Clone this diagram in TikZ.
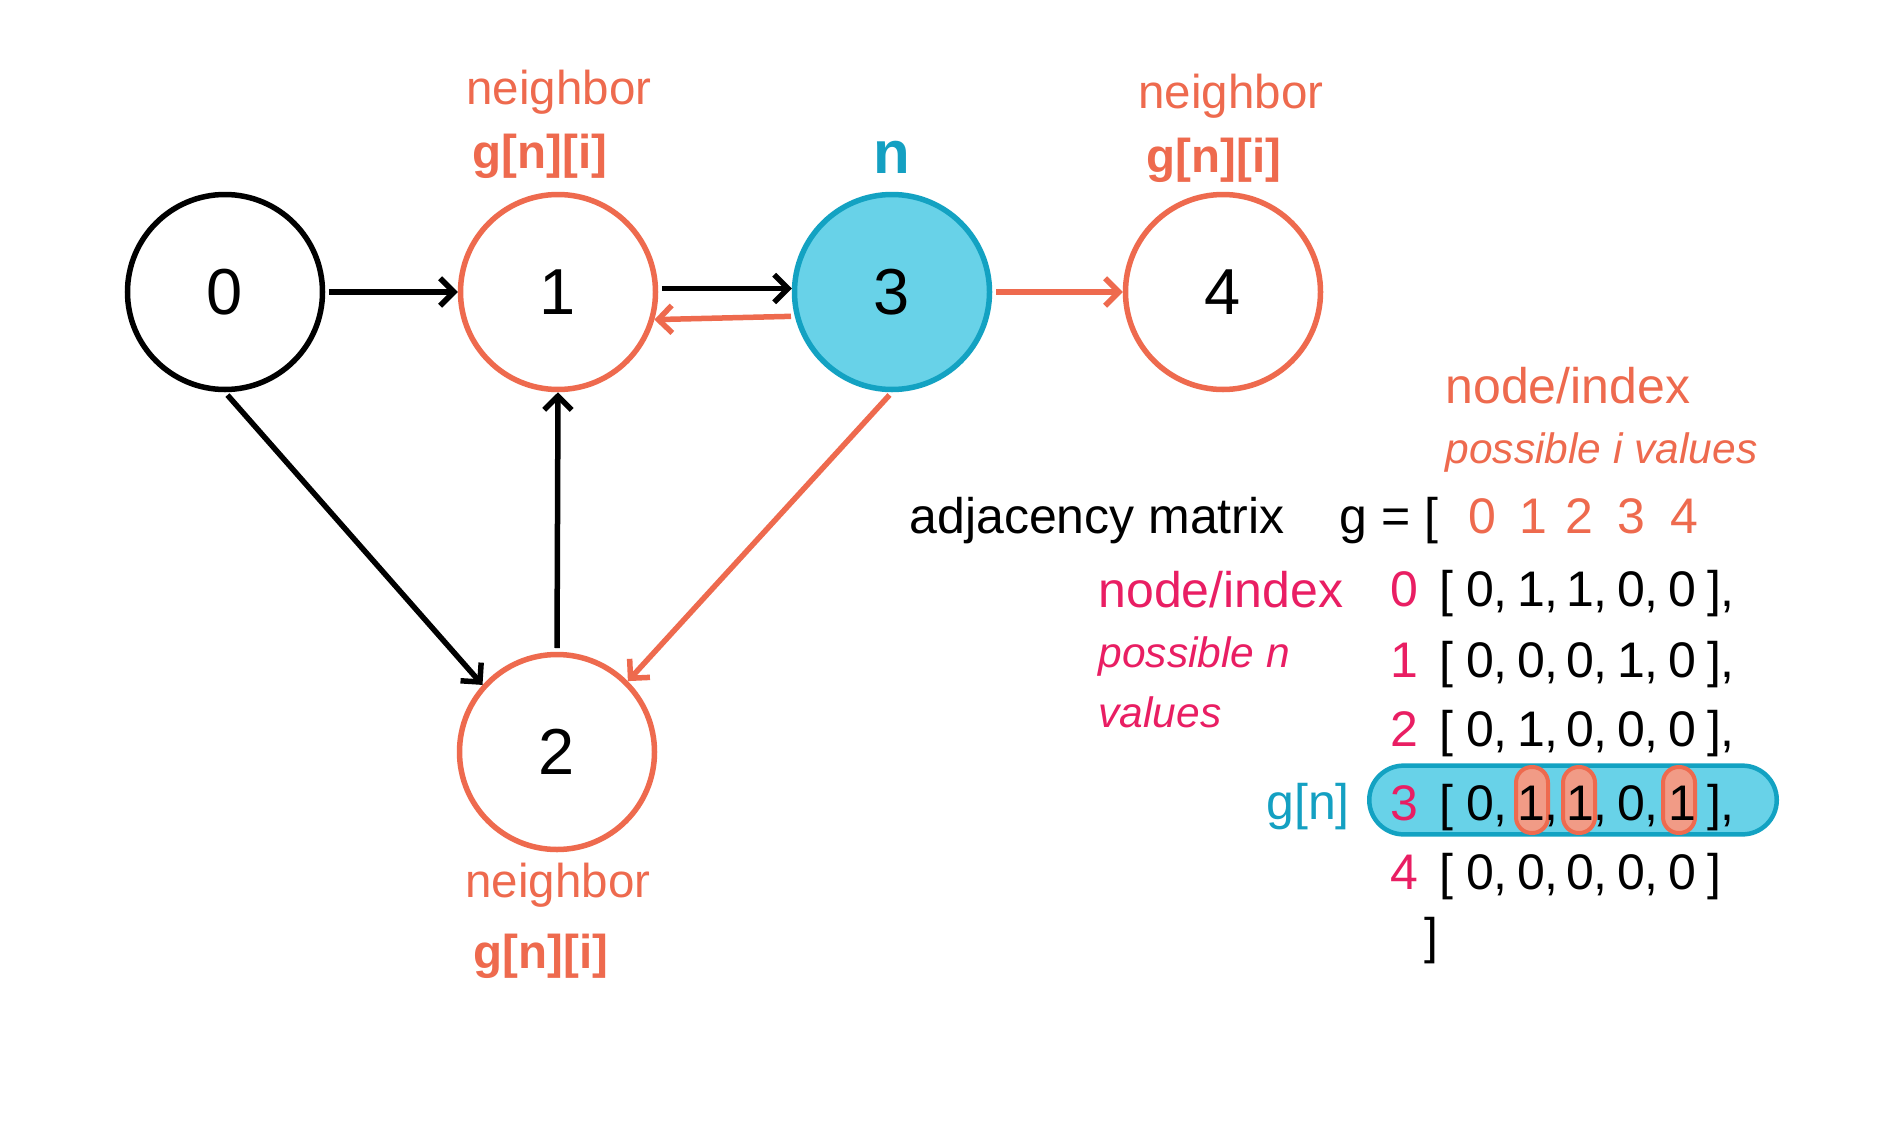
\documentclass[tikz,border=0pt]{standalone}
\usepackage{fontspec}
\setmainfont{Liberation Sans}
\usetikzlibrary{arrows.meta,shapes.misc}
\definecolor{orng}{HTML}{EE6A4E}
\definecolor{tealfill}{HTML}{68D2E8}
\definecolor{tealline}{HTML}{13A2C2}
\definecolor{tealtext}{HTML}{14A0C2}
\definecolor{pinkc}{HTML}{E91E63}
\definecolor{salmon}{HTML}{F19B86}
\newcommand{\setfs}[1]{\fontsize{#1}{#1}\selectfont}
\begin{document}
\begin{tikzpicture}[x=0.4pt,y=-0.4pt,
  gnode/.style={circle,minimum size=78pt,inner sep=0pt,line width=2.2pt,font=\setfs{26pt}},
  edge/.style={line width=2.2pt,shorten <=1.5pt,-{Straight Barb[length=5.5pt,width=11pt]}},
  txt/.style={anchor=base,inner sep=0pt,font=\setfs{20pt}},
  ltxt/.style={anchor=base west,inner sep=0pt,font=\setfs{20pt}},
  nb/.style={txt,text=orng,font=\setfs{19pt}},
  gni/.style={txt,text=orng,font=\bfseries\setfs{19pt}},
  onepill/.style={rectangle,rounded corners=6.3pt,minimum width=12.8pt,minimum height=26.4pt,inner sep=0pt,draw=orng,fill=salmon,line width=1.6pt}
]
\useasboundingbox (0,0) rectangle (1879,1126);
\fill[white] (0,0) rectangle (1879,1126);

% graph nodes
\node[gnode,draw=black] (n0) at (225,292) {0};
\node[gnode,draw=orng] (n1) at (558,292) {1};
\node[gnode,draw=tealline,fill=tealfill] (n3) at (892,292) {3};
\node[gnode,draw=orng] (n4) at (1223,292) {4};
\node[gnode,draw=orng] (n2) at (557,752) {2};

% edges
\draw[edge] (n0) -- (n1);
\draw[edge] (n1.2) -- (n3.178);
\draw[edge,orng] (n3.194) -- (n1.-16);
\draw[edge,orng] (n3) -- (n4);
\draw[edge] (n0.south) -- (n2.138);
\draw[edge] (n2.north) -- (n1.south);
\draw[edge,orng] (n3.south) -- (n2.45);

% labels around nodes
\node[nb] (nb1) at (559,104) {neighbor};
\node[gni] (g1) at (540,168) {g[n][i]};
\node[txt,text=tealtext,font=\bfseries\setfs{24pt}] (nlab) at (892,173) {n};
\node[nb] (nb4) at (1231,108) {neighbor};
\node[gni] (g4) at (1214,172) {g[n][i]};
\node[nb] (nb2) at (558,897) {neighbor};
\node[gni] (g2) at (541,968) {g[n][i]};

% highlight pills
\node[rounded rectangle,draw=tealline,fill=tealfill,line width=1.8pt,minimum width=163pt,minimum height=27.5pt,inner sep=0pt] (rowpill) at (1573,800) {};
\node[onepill] (p1) at (1532,800) {};
\node[onepill] (p2) at (1579,800) {};
\node[onepill] (p3) at (1679,800) {};

% matrix annotations
\node[ltxt,text=orng] (ni1) at (1445,403) {node/index};
\node[ltxt,text=orng,font=\itshape\setfs{17pt}] (piv) at (1445,463) {possible i values};
\node[ltxt] (adj) at (909,533) {adjacency matrix};
\node[ltxt] (geq) at (1339,533) {g = [};
\foreach \v/\cx in {0/1482,1/1533,2/1579,3/1631,4/1684}
  \node[txt,text=orng] (h\v) at (\cx,533) {\v};
\node[ltxt,text=pinkc] (ni2) at (1098,607) {node/index};
\node[ltxt,text=pinkc,font=\itshape\setfs{17pt}] (pnv1) at (1098,667) {possible n};
\node[ltxt,text=pinkc,font=\itshape\setfs{17pt}] (pnv2) at (1098,727) {values};
\node[txt,text=tealtext] (gn) at (1308,819) {g[n]};

% matrix rows
\foreach \r/\yb/\va/\vb/\vc/\vd/\ve in {0/606/0/1/1/0/0, 1/677/0/0/0/1/0, 2/746/0/1/0/0/0, 3/820/0/1/1/0/1, 4/889/0/0/0/0/0}{
  \node[txt,text=pinkc] (rl\r) at (1404,\yb) {\r};
  \node[txt] (lb\r) at (1446,\yb) {[};
  \node[txt] (ca\r) at (1480,\yb) {\va\rlap{,}};
  \node[txt] (cb\r) at (1531,\yb) {\vb\rlap{,}};
  \node[txt] (cc\r) at (1580,\yb) {\vc\rlap{,}};
  \node[txt] (cd\r) at (1631,\yb) {\vd\rlap{,}};
  \node[txt] (ce\r) at (1682,\yb) {\ve};
}
\foreach \r/\yb in {0/606,1/677,2/746,3/820}
  \node[txt] (rb\r) at (1714,\yb) {]\rlap{,}};
\node[txt] (rb4) at (1714,889) {]};
\node[txt] (closeb) at (1431,953) {]};
\end{tikzpicture}
\end{document}
